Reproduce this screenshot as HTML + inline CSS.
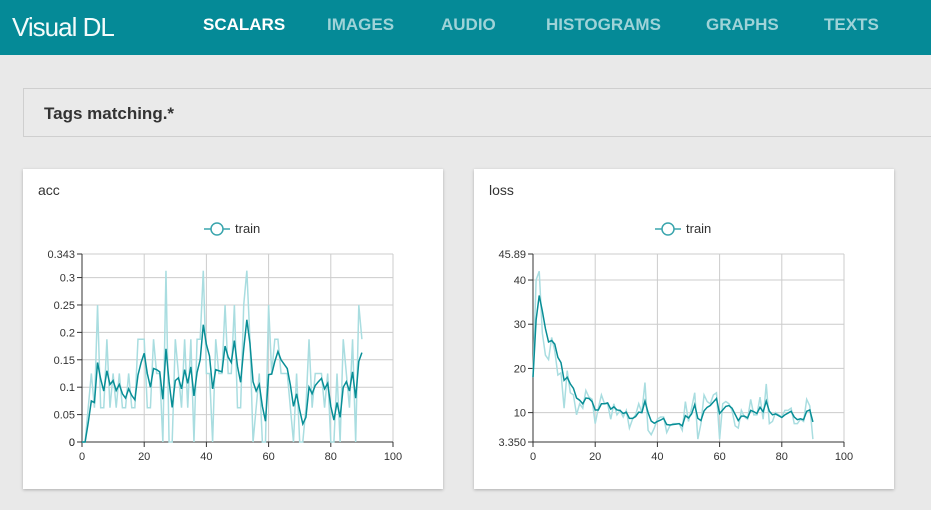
<!DOCTYPE html>
<html><head><meta charset="utf-8"><style>
body{margin:0;width:931px;height:510px;overflow:hidden;background:#e9e9e9;font-family:"Liberation Sans","DejaVu Sans",sans-serif;position:relative}
#hdr{position:absolute;left:0;top:0;width:931px;height:55px;background:#058a97}
#logo{position:absolute;left:12px;top:12px;color:#f4fbfb;font-size:26px;letter-spacing:-1px;font-weight:normal}
.nav{position:absolute;top:15px;font-size:17px;font-weight:bold;color:#9fd3d8}
#tags{position:absolute;left:23px;top:88px;width:920px;height:49px;border:1px solid #cfcfcf;background:#eaeaea;box-sizing:border-box}
#tags span{position:absolute;left:20px;top:15px;font-size:17px;font-weight:bold;color:#333}
.card{position:absolute;top:169px;width:420px;height:320px;background:#fff;box-shadow:0 1px 3px rgba(0,0,0,.25)}
.ct{position:absolute;left:15px;top:13px;font-size:14px;color:#333}
svg{position:absolute;left:0;top:0}
</style></head><body>
<div id="hdr">
<div id="logo">Visual DL</div>
<div class="nav" style="left:203px;color:#fff">SCALARS</div>
<div class="nav" style="left:327px">IMAGES</div>
<div class="nav" style="left:441px">AUDIO</div>
<div class="nav" style="left:546px">HISTOGRAMS</div>
<div class="nav" style="left:706px">GRAPHS</div>
<div class="nav" style="left:824px">TEXTS</div>
</div>
<div id="tags"><span>Tags matching.*</span></div>
<div class="card" style="left:23px"><div class="ct">acc</div><svg id="s1" width="420" height="320"></svg></div>
<div class="card" style="left:474px"><div class="ct">loss</div><svg id="s2" width="420" height="320"></svg></div>
<script>
const accSmooth=[0,0,0.035,0.075,0.072,0.145,0.115,0.093,0.13,0.105,0.112,0.094,0.105,0.088,0.08,0.097,0.085,0.077,0.122,0.145,0.162,0.125,0.1,0.134,0.132,0.128,0.078,0.17,0.11,0.063,0.112,0.117,0.097,0.132,0.107,0.137,0.084,0.127,0.15,0.214,0.178,0.157,0.097,0.132,0.13,0.128,0.175,0.155,0.145,0.185,0.138,0.109,0.17,0.223,0.18,0.11,0.093,0.105,0.065,0.038,0.123,0.124,0.147,0.165,0.15,0.142,0.134,0.104,0.065,0.088,0.058,0.033,0.045,0.1,0.088,0.103,0.11,0.116,0.097,0.107,0.065,0.04,0.072,0.045,0.1,0.11,0.093,0.128,0.08,0.147,0.163];
const accRaw16=[0,0,1,2,1,4,1,1,3,1,2,1,2,1,1,2,1,1,3,3,3,1,1,3,2,2,0,5,0,0,3,2,1,3,1,3,0,3,3,5,2,2,0,3,2,2,4,2,2,4,1,1,4,5,3,0,1,2,0,0,4,2,3,3,2,2,2,1,0,2,0,0,1,3,1,2,2,2,1,2,0,0,2,0,3,2,1,3,0,4,3];
const lossSmooth=[18,31,36.5,33,29,26,26.3,25.5,22.5,21.3,17.3,18,16.5,15.5,13.3,12.8,12,13.3,13.2,12.5,10.6,10.6,12,12,12.2,10.8,11.3,10.6,10.5,9.8,10.1,8.7,8.7,9.1,10.1,10,12.6,10,8.1,7.6,8,8.3,8.7,7.3,7.2,7.3,7.4,7.5,7,9.3,8.8,9.7,11.8,8.7,8.2,10.4,11.2,11.6,12.4,13.2,9.8,10.6,11.4,11.6,11,9.6,8.2,9.2,9.2,8.8,10.5,10.2,9.8,11.2,10.2,12.6,10.3,9.5,9.7,9.3,8.9,9.5,9.9,10.3,9,8.4,8.6,8.4,10.3,10.6,7.9];
const lossRaw=[18,40,42,28,23,22,27,24,18.5,19,11,19.5,14.5,14,9.5,12,11,15,13.5,13,7.5,11,14,12,12,8.5,12,9.5,10.5,9,10.5,6.5,8.5,9.5,12,10,16.8,6,5,6.5,8.5,9,9,5.5,7,7.5,7.5,7.5,6,12.5,8,11,14.5,4,7.5,14,12.5,12,14,14.5,4,12,12.5,12,10.5,7,6.5,10.5,9,8.5,13,9.5,9.5,13.5,8.5,16.5,7.5,8,10,9.5,9,10.5,10.5,11,7.5,7.5,8.5,8,13,11.5,4];
const xTicks=[0,20,40,60,80,100];
const accTicks=[0,0.05,0.1,0.15,0.2,0.25,0.3];
const lossTicks=[10,20,30,40];
const NS="http://www.w3.org/2000/svg";
function mk(svg,t,a){const e=document.createElementNS(NS,t);for(const k in a)e.setAttribute(k,a[k]);svg.appendChild(e);return e;}
function chart(id,raw,smooth,ymin,ymax,yTicks,minLabel,maxLabel){
 const svg=document.getElementById(id);
 const x0=59,x1=370,y0=273,y1=85;
 const X=v=>x0+(v-0)/100*(x1-x0), Y=v=>y0-(v-ymin)/(ymax-ymin)*(y0-y1);
 const g=mk(svg,'g',{});
 
 
 xTicks.forEach(t=>{if(t>0)mk(g,'line',{x1:X(t),x2:X(t),y1:y1,y2:y0,stroke:'#ccc'});});
 yTicks.concat([ymax]).forEach(t=>mk(g,'line',{x1:x0,x2:x1,y1:Y(t),y2:Y(t),stroke:'#ccc'}));
 mk(svg,'line',{x1:x0,x2:x0,y1:y1,y2:y0,stroke:'#333'});
 mk(svg,'line',{x1:x0,x2:x1,y1:y0,y2:y0,stroke:'#333'});
 const ts='font-size:11px;fill:#333';
 xTicks.forEach(t=>{mk(svg,'line',{x1:X(t),x2:X(t),y1:y0,y2:y0+5,stroke:'#333'});const e=mk(svg,'text',{x:X(t),y:y0+18,'text-anchor':'middle',style:ts});e.textContent=t;
  
  });
 const yl=yTicks.map(t=>[t,String(t)]).concat([[ymin,minLabel],[ymax,maxLabel]]);
 yl.forEach(([t,l])=>{mk(svg,'line',{x1:x0-5,x2:x0,y1:Y(t),y2:Y(t),stroke:'#333'});const e=mk(svg,'text',{x:x0-7,y:Y(t)+4,'text-anchor':'end',style:ts});e.textContent=l;
  
  });
 const pr=mk(svg,'polyline',{points:raw.map((v,i)=>X(i)+','+Y(v)).join(' '),fill:'none',stroke:'#a9dde0','stroke-width':1.5});
 
 
 const ps=mk(svg,'polyline',{points:smooth.map((v,i)=>X(i)+','+Y(v)).join(' '),fill:'none',stroke:'#088e96','stroke-width':1.5});
 
 
 const lg=mk(svg,'g',{});
 
 
 mk(lg,'line',{x1:181,x2:207,y1:60,y2:60,stroke:'#3aa5ad','stroke-width':1.5});
 mk(lg,'circle',{cx:194,cy:60,r:6,fill:'#fff',stroke:'#3aa5ad','stroke-width':1.5});
 const lt=mk(lg,'text',{x:212,y:64,style:'font-size:13px;fill:#333'});lt.textContent='train';
}
chart('s1',accRaw16.map(v=>v/16),accSmooth,0,0.343,accTicks,'0','0.343');
chart('s2',lossRaw,lossSmooth,3.35,45.89,lossTicks,'3.350','45.89');
</script>
</body></html>
